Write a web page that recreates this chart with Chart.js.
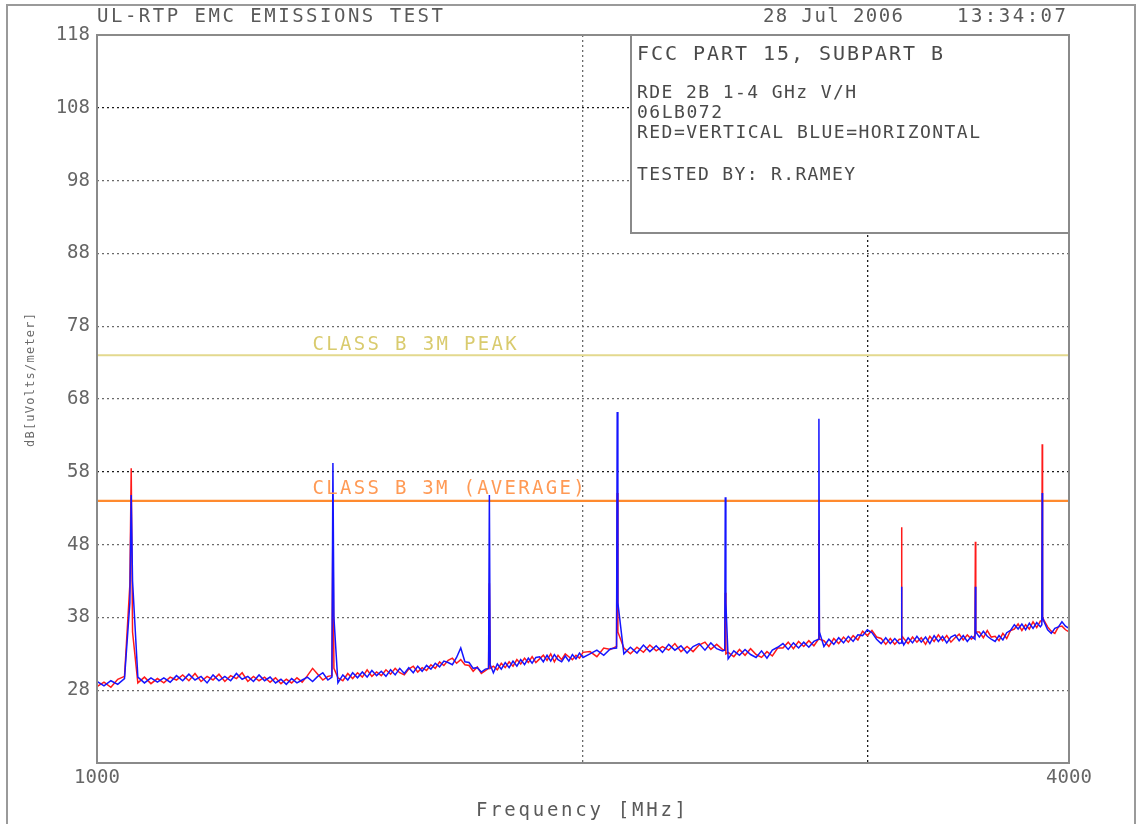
<!DOCTYPE html>
<html><head><meta charset="utf-8">
<script src="https://cdn.jsdelivr.net/npm/chart.js@4.4.1/dist/chart.umd.min.js"></script>
<style>html,body{margin:0;padding:0;background:#fff;overflow:hidden}</style>
</head><body>
<canvas id="c" width="1139" height="824"></canvas>
<script>
// ---------- DATA ----------
const freqs = [
  1000,1010,1020,1030,1040,1048,1050,1052,1060,1070,1080,1090,
  1100,1110,1120,1130,1140,1150,1160,1170,1180,1190,
  1200,1210,1220,1230,1240,1250,1260,1270,1280,1290,
  1300,1310,1320,1330,1340,1350,1360,1370,1380,1390,
  1398,1400,1402,
  1410,1420,1430,1440,1450,1460,1470,1480,1490,1500,
  1510,1520,1530,1540,1550,1560,1570,1580,1590,1600,
  1610,1620,1630,1640,1650,1660,1670,1680,1690,1700,
  1710,1720,1730,1740,
  1748,1750,1752,
  1760,1770,1780,1790,1800,1810,1820,1830,1840,1850,
  1860,1870,1880,1890,1900,1910,1920,1930,1940,1950,
  1960,1970,1980,1990,2000,
  2020,2040,2060,2080,
  2098,2100,2102,
  2120,2140,2160,2180,2200,2220,2240,2260,2280,2300,
  2320,2340,2360,2380,2400,2420,2440,
  2448,2450,2452,
  2460,2480,2500,2520,2540,2560,2580,2600,2620,2640,
  2660,2680,2700,2720,2740,2760,2780,
  2798,2800,2802,
  2820,2840,2860,2880,2900,2920,2940,2960,2980,3000,
  3020,3040,3060,3080,3100,3120,3140,
  3148,3150,3152,
  3160,3180,3200,3220,3240,3260,3280,3300,3320,3340,
  3360,3380,3400,3420,3440,3460,3480,
  3498,3500,3502,
  3520,3540,3560,3580,3600,3620,3640,3660,3680,3700,
  3720,3740,3760,3780,3800,3820,3840,
  3848,3850,3852,
  3860,3880,3900,3920,3940,3960,3980,4000
];
// BLUE = HORIZONTAL  (dBuV/m)
const blueHorizontal = [
  29.2,28.6,29.3,28.8,29.6,40.0,54.8,43.0,29.8,29.0,29.7,29.1,
  29.7,29.1,30.0,29.3,30.2,29.4,29.9,29.0,30.1,29.3,
  29.9,29.3,30.3,29.5,29.9,29.2,30.1,29.3,29.8,29.0,
  29.5,28.8,29.6,29.0,29.4,29.8,29.2,29.9,30.4,29.4,
  29.8,59.2,38.0,
  29.0,30.1,29.4,30.4,29.7,30.5,29.8,30.7,30.0,30.6,
  29.9,30.8,30.1,31.0,30.3,31.1,30.4,31.3,30.6,31.4,
  30.9,31.7,31.2,32.0,31.8,31.5,32.5,33.8,31.9,31.8,
  31.0,31.1,30.5,30.9,
  31.0,54.8,31.5,
  30.4,31.6,30.9,31.8,31.1,32.0,31.3,32.2,31.5,32.4,
  31.7,32.5,32.6,31.9,32.8,32.0,32.9,32.2,31.9,32.7,
  32.0,32.9,32.3,33.1,32.5,
  33.0,33.5,32.8,33.7,
  33.8,66.2,40.0,
  33.0,33.9,33.1,34.2,33.3,34.1,33.2,34.3,33.5,34.1,
  33.1,34.0,34.4,33.5,34.5,33.7,33.4,
  33.5,54.5,40.0,
  32.3,33.4,32.8,33.6,32.9,32.5,33.4,32.4,33.5,33.9,
  34.4,33.6,34.5,33.8,34.6,33.9,34.7,
  35.0,65.3,36.0,
  34.0,35.0,34.3,35.2,34.5,35.4,34.7,35.6,35.5,36.3,
  35.9,35.0,34.4,35.2,34.4,35.1,34.4,
  34.5,42.2,35.0,
  34.2,35.2,34.5,35.4,34.6,35.3,34.4,35.5,34.7,35.4,
  34.5,35.3,35.6,34.8,35.5,34.7,35.4,
  35.0,42.2,36.0,
  35.3,36.1,35.4,35.0,34.7,35.5,34.9,35.9,36.2,37.0,
  36.4,37.1,36.3,37.2,36.5,37.3,36.7,
  37.0,55.1,38.0,
  37.4,36.3,35.8,36.5,36.7,37.4,36.8,36.5
];
// RED = VERTICAL  (dBuV/m)
const redVertical = [
  28.5,29.1,28.4,29.5,29.9,42.5,58.5,36.0,29.0,29.8,28.9,29.6,
  29.0,29.8,29.4,30.1,29.3,30.3,29.2,29.9,29.4,30.2,
  29.2,30.0,29.6,30.4,29.2,29.9,29.3,29.8,29.1,29.7,
  28.9,29.5,29.0,29.7,29.1,30.0,31.0,30.2,29.4,29.9,
  30.0,51.4,31.0,
  29.7,29.3,30.3,29.6,30.4,29.8,30.8,29.9,30.5,30.0,
  30.8,30.2,31.0,30.4,30.1,30.9,31.3,30.5,31.1,30.7,
  31.5,31.0,31.9,31.4,32.1,32.4,31.7,32.2,31.5,31.4,
  30.6,31.2,30.3,30.7,
  31.0,42.7,31.0,
  31.3,30.8,31.7,31.1,31.9,31.3,32.2,31.6,32.4,31.8,
  32.6,31.8,32.3,32.8,32.1,33.0,31.9,32.8,32.2,33.0,
  32.6,32.2,32.8,32.4,33.2,
  33.3,32.6,33.8,33.6,
  34.0,55.1,36.0,
  33.8,33.0,33.9,33.2,34.2,33.4,34.0,33.5,34.4,33.3,
  34.0,33.3,34.2,34.6,33.6,34.3,33.6,
  33.5,41.4,33.0,
  33.2,32.6,33.6,32.8,33.7,32.9,32.5,33.3,32.7,33.8,
  33.8,34.6,33.7,34.7,34.0,34.8,34.1,
  35.0,50.0,35.0,
  34.8,34.0,35.1,34.4,35.3,34.6,35.5,34.9,36.1,35.5,
  36.2,35.3,35.1,34.3,35.1,34.3,35.0,
  35.0,50.4,35.5,
  35.1,34.4,35.3,34.6,35.2,34.3,35.4,34.7,35.6,34.8,
  35.5,34.6,35.2,35.7,34.9,35.6,35.0,
  35.5,48.4,36.0,
  36.0,35.2,36.2,35.3,35.4,34.8,35.8,35.1,36.2,36.4,
  37.1,36.2,37.0,36.4,37.4,36.6,37.5,
  37.5,61.8,38.0,
  37.6,36.7,36.1,35.8,36.7,36.8,36.3,36.0
];
const limitFreqs = [1000, 4000];
const peakLimit = [74, 74];
const averageLimit = [54, 54];
const yTickValues = [18, 28, 38, 48, 58, 68, 78, 88, 98, 108, 118];
const xTickValues = [1000, 2000, 3000, 4000];
const xTickLabels = ['1000', '', '', '4000'];
const limitLabelFreq = 1360;
const titleText = 'UL-RTP EMC EMISSIONS TEST';
const dateText = '28 Jul 2006';
const timeText = '13:34:07';
const infoLines = ['FCC PART 15, SUBPART B', 'RDE 2B 1-4 GHz V/H', '06LB072', 'RED=VERTICAL BLUE=HORIZONTAL', 'TESTED BY: R.RAMEY'];
const xTitle = 'Frequency [MHz]';
const yTitle = 'dB[uVolts/meter]';

// ---------- DRAWING ----------
const FONT = '"DejaVu Sans Mono", "Liberation Mono", monospace';
function fitText(ctx, str, x, y, w, size, color, center) {
  ctx.save();
  ctx.font = size + 'px ' + FONT;
  ctx.fillStyle = color;
  ctx.textBaseline = 'middle';
  ctx.textAlign = 'left';
  ctx.letterSpacing = '0px';
  const m = ctx.measureText(str).width;
  const s = str.length > 1 ? (w - m) / (str.length - 1) : 0;
  ctx.letterSpacing = s + 'px';
  ctx.fillText(str, center ? x - w / 2 : x, y);
  ctx.restore();
}

const decor = {
  id: 'decor',
  beforeDraw(chart) {
    const ctx = chart.ctx;
    ctx.save(); ctx.fillStyle = '#fff'; ctx.fillRect(0, 0, chart.width, chart.height); ctx.restore();
  },
  afterDraw(chart) {
    const ctx = chart.ctx, a = chart.chartArea;
    const xs = chart.scales.x, ys = chart.scales.y;
    const lx = xs.getPixelForValue(limitLabelFreq);
    fitText(ctx, 'CLASS B 3M PEAK', lx, ys.getPixelForValue(peakLimit[0]) - 10, 204, 19, '#d9cb6e');
    fitText(ctx, 'CLASS B 3M (AVERAGE)', lx, ys.getPixelForValue(averageLimit[0]) - 12, 272, 19, '#ff9a55');
    ctx.save();
    ctx.strokeStyle = '#8a8a8a'; ctx.lineWidth = 2;
    ctx.strokeRect(a.left, a.top, a.right - a.left, a.bottom - a.top);
    const bx = 631, by = a.top, bw = a.right - 631, bh = 198;
    ctx.fillStyle = '#fff'; ctx.fillRect(bx, by, bw, bh);
    ctx.strokeRect(bx, by, bw, bh);
    ctx.strokeStyle = '#9a9a9a';
    ctx.strokeRect(7, 5, 1128, 840);
    ctx.restore();
    fitText(ctx, titleText, 97, 17, 346, 19, '#5a5a5a');
    fitText(ctx, dateText, 763, 17, 140, 19, '#5a5a5a');
    fitText(ctx, timeText, 957, 17, 109, 19, '#5a5a5a');
    fitText(ctx, infoLines[0], 637, 55, 306, 20, '#4a4a4a');
    fitText(ctx, infoLines[1], 637, 93, 219, 18, '#4a4a4a');
    fitText(ctx, infoLines[2], 637, 113, 85, 18, '#4a4a4a');
    fitText(ctx, infoLines[3], 637, 133, 343, 18, '#4a4a4a');
    fitText(ctx, infoLines[4], 637, 175, 218, 18, '#4a4a4a');
    fitText(ctx, xTitle, 581, 811, 210, 19, '#5a5a5a', true);
    ctx.save();
    ctx.translate(31, 380); ctx.rotate(-Math.PI / 2);
    fitText(ctx, yTitle, 0, 0, 134, 12, '#6a6a6a', true);
    ctx.restore();
  }
};

const mk = (ys) => freqs.map((f, i) => ({x: f, y: ys[i]}));
const lim = (ys) => limitFreqs.map((f, i) => ({x: f, y: ys[i]}));

new Chart(document.getElementById('c'), {
  type: 'line',
  data: {
    datasets: [
      {label: 'Horizontal', data: mk(blueHorizontal), borderColor: '#1515ff', borderWidth: 1.5, pointRadius: 0, order: 1},
      {label: 'Vertical', data: mk(redVertical), borderColor: '#ff1a1a', borderWidth: 1.5, pointRadius: 0, order: 2},
      {label: 'Peak', data: lim(peakLimit), borderColor: '#e3d98e', borderWidth: 2, pointRadius: 0, order: 3},
      {label: 'Average', data: lim(averageLimit), borderColor: '#ff8a2e', borderWidth: 2.2, pointRadius: 0, order: 4}
    ]
  },
  options: {
    responsive: false, animation: false, devicePixelRatio: 1,
    layout: {padding: {left: 0, right: 70, top: 35, bottom: 0}},
    plugins: {legend: {display: false}, tooltip: {enabled: false}, title: {display: false}},
    elements: {line: {tension: 0}},
    scales: {
      x: {
        type: 'logarithmic', min: 1000, max: 4000,
        afterBuildTicks: s => { s.ticks = xTickValues.map(v => ({value: v})); },
        afterFit: s => { s.height = 61; },
        ticks: {
          autoSkip: false, maxRotation: 0, padding: 4, color: '#666',
          font: {family: FONT, size: 19},
          callback: (v) => { const i = xTickValues.indexOf(v); return i >= 0 ? xTickLabels[i] : ''; }
        },
        grid: {
          drawTicks: false, lineWidth: 1.3,
          color: c => (c.tick && c.tick.value === 3000) ? '#1a1a1a' : ((c.tick && c.tick.value === 2000) ? '#6a6a6a' : 'rgba(0,0,0,0)')
        },
        border: {display: false, dash: [2, 3]}
      },
      y: {
        type: 'linear', min: 18, max: 118,
        afterBuildTicks: s => { s.ticks = yTickValues.map(v => ({value: v})); },
        afterFit: s => { s.width = 97; },
        ticks: {
          padding: 7, color: '#666', font: {family: FONT, size: 19},
          callback: v => (v === 18 ? '' : String(v))
        },
        grid: {
          drawTicks: false, lineWidth: 1.3,
          color: c => {
            const v = c.tick ? c.tick.value : null;
            if (v === 18 || v === 118) return 'rgba(0,0,0,0)';
            return (v === 108 || v === 58) ? '#1a1a1a' : '#6a6a6a';
          }
        },
        border: {display: false, dash: [2, 3]}
      }
    }
  },
  plugins: [decor]
});
</script>
</body></html>
